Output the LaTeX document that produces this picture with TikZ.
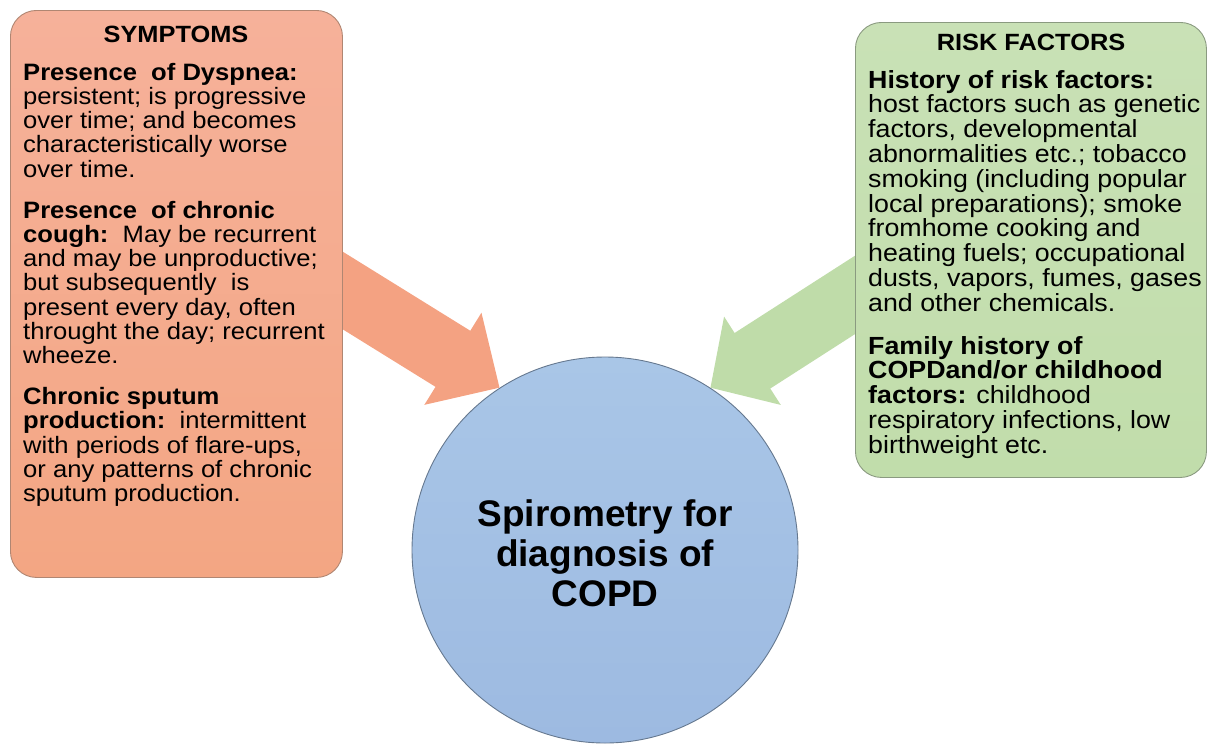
\documentclass[tikz,border=0pt]{standalone}
\usepackage{fontspec}
\setmainfont{Liberation Sans}
\newfontfamily\boxfont{Liberation Sans}[FakeStretch=1.08]
\usetikzlibrary{arrows.meta}
\pgfdeclarelayer{bg}
\pgfsetlayers{bg,main}
\definecolor{sympfill}{HTML}{F3A683}
\definecolor{sympfilltop}{HTML}{F6B19A}
\definecolor{sympline}{HTML}{B08672}
\definecolor{symparrow}{HTML}{F4A282}
\definecolor{riskfill}{HTML}{C1DDAB}
\definecolor{riskfilltop}{HTML}{C9E1B6}
\definecolor{riskline}{HTML}{8A9A80}
\definecolor{riskarrow}{HTML}{BFDCA9}
\definecolor{circtop}{HTML}{A9C6E7}
\definecolor{circbot}{HTML}{9DBAE1}
\definecolor{circline}{HTML}{65788F}
\tikzset{
  x=1pt, y=-1pt,
  panel/.style={rounded corners=26pt, line width=0.9pt, inner sep=0pt, anchor=north west},
  symppanel/.style={panel, draw=sympline, top color=sympfilltop, bottom color=sympfill},
  riskpanel/.style={panel, draw=riskline, top color=riskfilltop, bottom color=riskfill},
  paneltitle/.style={anchor=base, inner sep=0pt, font=\boxfont\bfseries\fontsize{23.5}{24}\selectfont},
  panelbody/.style={anchor=north west, inner sep=0pt, align=left},
  bigarrow/.style={line width=66pt},
}
\begin{document}
\begin{tikzpicture}
\useasboundingbox (0,0) rectangle (1207,745);
% central circle
\node[circle, draw=circline, line width=0.9pt, top color=circtop, bottom color=circbot,
      minimum size=386pt, inner sep=0pt] (circ) at (605,550) {};
\node[align=center, inner sep=0pt, font=\bfseries\fontsize{37}{40}\selectfont] (circtext) at (605,553)
  {Spirometry for\\diagnosis of\\COPD};
% symptoms panel
\node[symppanel, minimum width=332pt, minimum height=567pt] (symp) at (10,10) {};
\node[paneltitle] (symptitle) at (176,42) {SYMPTOMS};
\node[panelbody, font=\boxfont\fontsize{23.7}{24.2}\selectfont] (sympbody) at (23,63) {%
\textbf{Presence\ \ of Dyspnea:}\\
persistent; is progressive\\
over time; and becomes\\
characteristically worse\\
over time.\\[17pt]
\textbf{Presence\ \ of chronic}\\
\textbf{cough:}\ \ May be recurrent\\
and may be unproductive;\\
but subsequently\ \ is\\
present every day, often\\
throught the day; recurrent\\
wheeze.\\[17pt]
\textbf{Chronic sputum}\\
\textbf{production:}\ \ intermittent\\
with periods of flare-ups,\\
or any patterns of chronic\\
sputum production.};
% risk factors panel
\node[riskpanel, minimum width=351pt, minimum height=455pt] (risk) at (855,22) {};
\node[paneltitle] (risktitle) at (1031,50) {RISK FACTORS};
\node[panelbody, font=\boxfont\fontsize{24.8}{24.8}\selectfont] (riskbody) at (868,70) {%
\textbf{History of risk factors:}\\
host factors such as genetic\\
factors, developmental\\
abnormalities etc.; tobacco\\
smoking (including popular\\
local preparations); smoke\\
fromhome cooking and\\
heating fuels; occupational\\
dusts, vapors, fumes, gases\\
and other chemicals.\\[18pt]
\textbf{Family history of}\\
\textbf{COPDand/or childhood}\\
\textbf{factors:} childhood\\
respiratory infections, low\\
birthweight etc.};
% arrows behind the panels
\coordinate (symptail) at (300,264);
\coordinate (risktail) at (900,266);
\begin{pgfonlayer}{bg}
\draw[bigarrow, draw=symparrow, -{Triangle[length=55pt, width=105pt, fill=symparrow]}] (symptail) -- (circ.123.5);
\draw[bigarrow, draw=riskarrow, -{Triangle[length=50pt, width=102pt, fill=riskarrow]}] (risktail) -- (circ.57.5);
\end{pgfonlayer}
\end{tikzpicture}
\end{document}
